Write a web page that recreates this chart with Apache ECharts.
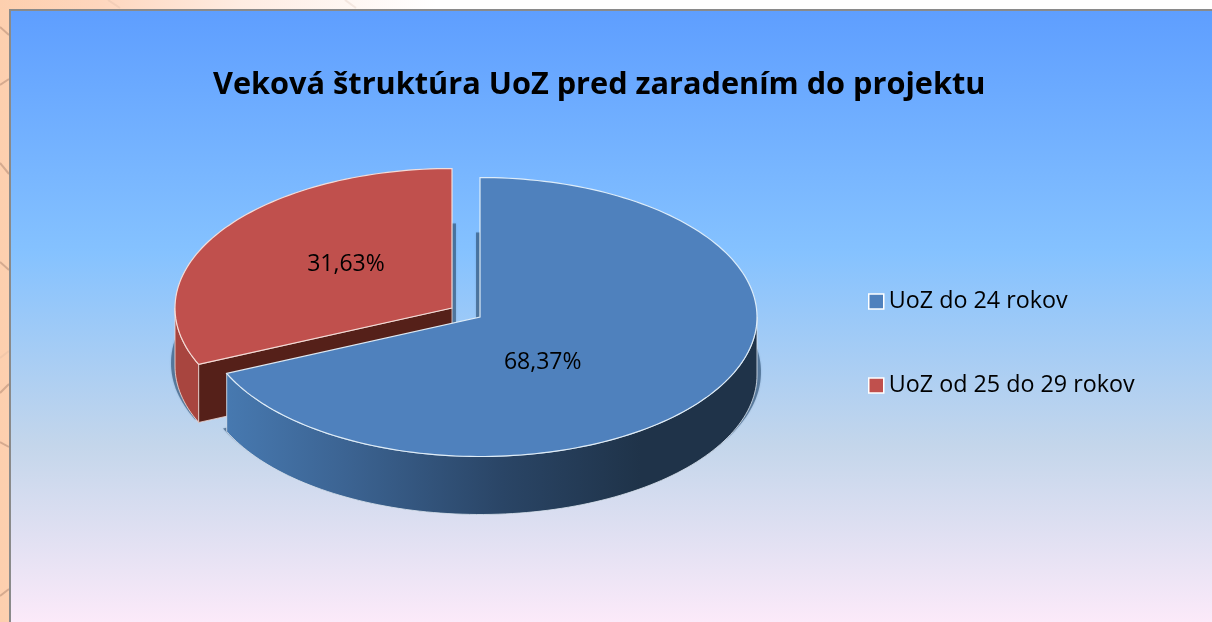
<!DOCTYPE html>
<html>
<head>
<meta charset="utf-8">
<style>html,body{margin:0;padding:0;background:#fff}#c{width:1212px;height:622px}</style>
<script src="https://cdn.jsdelivr.net/npm/echarts@6/dist/echarts.min.js"></script>
</head>
<body>
<div id="c"></div>
<script>
var chartTitle = 'Veková štruktúra UoZ pred zaradením do projektu';
var categories = ['UoZ do 24 rokov', 'UoZ od 25 do 29 rokov'];
var shares = [68.37, 31.63];
var topColors = ['#4f81bd', '#c0504d'];

var FONT = '"Open Sans"';
var RX = 277, RY = 139.5, DEPTH = 58;
// apex of each slice after the explode offset, and where its label sits within the ellipse
var apex = [[480, 317], [452, 308]];
var labelFraction = [[0.27, 0.592], [0.457, 0.571]];
var total = shares[0] + shares[1];

function sliceRange(i) {
  var start = 0;
  for (var k = 0; k < i; k++) start += shares[k];
  return [start / total * 360, (start + shares[i]) / total * 360];
}
function pt(c, deg, dy, rx, ry) {
  var a = deg * Math.PI / 180;
  return [c[0] + (rx || RX) * Math.sin(a), c[1] - (ry || RY) * Math.cos(a) + (dy || 0)];
}
function arc(c, from, to, dy, rx, ry) {
  var pts = [], n = Math.max(2, Math.ceil(Math.abs(to - from) / 1.5));
  for (var j = 0; j <= n; j++) pts.push(pt(c, from + (to - from) * j / n, dy, rx, ry));
  return pts;
}
function poly(points, style, z2) {
  return { type: 'polygon', shape: { points: points }, style: style, z2: z2, silent: true };
}
function grad(stops) {
  return new echarts.graphic.LinearGradient(0, 0, 1, 0, stops);
}

// soft drop shadow of one slice: its outline pushed down by the wall height
function renderShadow(params, api) {
  var i = params.dataIndex, r = sliceRange(i), c = apex[i];
  var sx = c[0] + (i === 1 ? 4 : -4), dy = DEPTH - 3;
  var curve = arc(c, r[0], r[1], dy, RX + 4, RY);
  var topY = c[1] - RY + dy;
  var shape = i === 1
    ? [[sx, c[1] + dy]].concat(curve, [[sx, topY]])
    : [[sx, c[1] + dy], [sx, topY]].concat(curve);
  return poly(shape, { fill: 'rgba(45,80,115,0.6)', shadowBlur: 2, shadowColor: 'rgba(45,80,115,0.4)' }, 1);
}

function renderSlice(i) {
  return function (params, api) {
    var r = sliceRange(i), c = apex[i], kids = [];
    var mid = (r[0] + r[1]) / 2 * Math.PI / 180;
    if (i === 1) {
      var end = pt(c, r[0]);
      kids.push(poly([c, end, [end[0], end[1] + DEPTH], [c[0], c[1] + DEPTH]],
        { fill: '#552019', stroke: 'rgba(240,215,210,0.8)', lineWidth: 1 }, 3));
      var wall = arc(c, r[0], 270).concat(arc(c, 270, r[0], DEPTH));
      kids.push(poly(wall, { fill: '#a8453f', stroke: 'rgba(240,215,210,0.85)', lineWidth: 1 }, 2));
    } else {
      var wallBlue = arc(c, 90, r[1]).concat(arc(c, r[1], 90, DEPTH));
      kids.push(poly(wallBlue, {
        fill: grad([
          { offset: 0, color: '#4779b0' }, { offset: 0.22, color: '#3c6493' },
          { offset: 0.52, color: '#2a4566' }, { offset: 0.78, color: '#1f3349' }, { offset: 1, color: '#1f3349' }
        ]),
        stroke: 'rgba(215,225,235,0.85)', lineWidth: 1
      }, 2));
    }
    kids.push(poly([c].concat(arc(c, r[0], r[1])), {
      fill: api.visual('color'),
      stroke: i === 0 ? 'rgba(228,240,250,0.95)' : 'rgba(248,226,220,0.95)', lineWidth: 1.2
    }, 4));
    kids.push({
      type: 'text', z2: 6, silent: true,
      style: {
        x: c[0] + RX * Math.sin(mid) * labelFraction[i][0],
        y: c[1] - RY * Math.cos(mid) * labelFraction[i][1],
        text: api.value(0).toFixed(2).replace('.', ',') + '%',
        fill: '#000', font: '23px ' + FONT, align: 'center', verticalAlign: 'middle'
      }
    });
    return { type: 'group', children: kids };
  };
}

// faint twig marks of the slide background that show around the chart panel
var twigs = [
  [[0, 27], [9, 35]], [[0, 85], [9, 79]], [[0, 163], [9, 174]], [[0, 262], [9, 270]],
  [[0, 358], [9, 351]], [[0, 393], [9, 384]], [[0, 442], [9, 447]], [[0, 596], [9, 589]],
  [[108, 0], [120, 8]], [[345, 0], [356, 8]]
];
var twigGraphics = twigs.map(function (p, k) {
  return {
    type: 'polyline', z: -20, silent: true, shape: { points: p },
    style: { stroke: k === 4 || k > 7 ? 'rgba(200,170,150,0.2)' : 'rgba(165,125,105,0.45)', lineWidth: 2, fill: null }
  };
});

var chart = echarts.init(document.getElementById('c'), null, { renderer: 'canvas' });
chart.setOption({
  animation: false,
  backgroundColor: new echarts.graphic.LinearGradient(0, 0, 1, 0, [
    { offset: 0, color: '#fdcfae' }, { offset: 0.08, color: '#fed6bd' }, { offset: 0.2, color: '#feece2' },
    { offset: 0.36, color: '#ffffff' }, { offset: 1, color: '#ffffff' }
  ]),
  title: {
    text: chartTitle, left: 208, top: 65,
    textStyle: { fontFamily: FONT, fontWeight: 'bold', fontSize: 30.7, color: '#000' }
  },
  legend: {
    orient: 'vertical', left: 863, top: 285, itemGap: 61, itemWidth: 15, itemHeight: 15,
    icon: 'rect', selectedMode: false, data: categories,
    itemStyle: { borderColor: '#ffffff', borderWidth: 1.5 },
    textStyle: { fontFamily: FONT, fontSize: 23.3, color: '#000' }
  },
  graphic: twigGraphics.concat([{
    type: 'rect', z: -10, silent: true,
    shape: { x: 10, y: 10, width: 1212, height: 622 },
    style: {
      fill: new echarts.graphic.LinearGradient(0, 0, 0, 1, [
        { offset: 0, color: '#5e9eff' }, { offset: 0.39, color: '#85c2ff' },
        { offset: 0.7, color: '#c4d6eb' }, { offset: 1, color: '#ffebfa' }
      ]),
      stroke: '#8a8a8a', lineWidth: 2
    }
  }]),
  series: [{
    type: 'custom', name: 'shadow', coordinateSystem: 'none', z: 1,
    data: shares.map(function (v) { return [v]; }),
    renderItem: renderShadow
  }].concat(categories.map(function (name, i) {
    return {
      type: 'custom', name: name, coordinateSystem: 'none', z: i === 0 ? 3 : 2,
      itemStyle: { color: topColors[i] },
      data: [[shares[i]]],
      renderItem: renderSlice(i)
    };
  }))
});
</script>
</body>
</html>
